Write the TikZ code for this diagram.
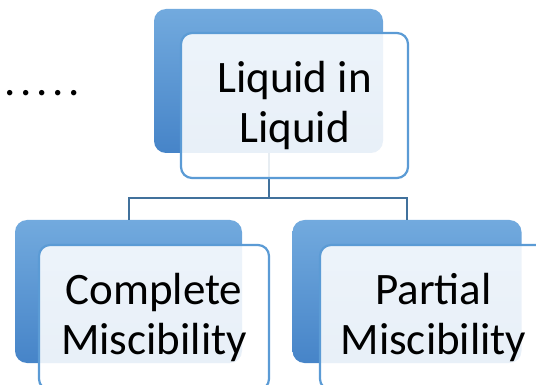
\documentclass[tikz,border=0pt]{standalone}
\usepackage{fontspec}
\setmainfont{Carlito}
\begin{document}
\begin{tikzpicture}[x=1pt,y=-1pt,
  backbox/.style={rectangle,rounded corners=12pt,inner sep=0pt,
    top color=blueA,bottom color=blueB,draw=none},
  frontbox/.style={rectangle,rounded corners=11pt,inner sep=0pt,
    draw=blueC,line width=2.2pt,fill=white,fill opacity=0.88,text opacity=1,
    align=center,font=\fontsize{45}{50}\selectfont},
  conn/.style={draw=connC,line width=2pt}]
\definecolor{blueA}{RGB}{114,170,222}
\definecolor{blueB}{RGB}{70,132,200}
\definecolor{blueC}{RGB}{91,155,213}
\definecolor{connC}{RGB}{65,113,156}
\useasboundingbox (0,0) rectangle (536,385);

% back (shaded) tiles
\node[backbox,minimum width=229pt,minimum height=144pt] (tb) at (268.5,81) {};
\node[backbox,minimum width=227pt,minimum height=143pt] (lb) at (128.5,291.5) {};
\node[backbox,minimum width=229pt,minimum height=143pt] (rb) at (407,291.5) {};

% tree connectors
\coordinate (j) at (268.5,198);
\draw[conn] (tb.south) -- (j) -| (lb.north);
\draw[conn] (j) -| (rb.north);

% front tiles with labels
\node[frontbox,minimum width=227pt,minimum height=145pt] (tf) at (294.5,105.5) {Liquid in\\Liquid};
\node[frontbox,minimum width=230pt,minimum height=145pt] (lf) at (154,317.5) {Complete\\Miscibility};
\node[frontbox,minimum width=227pt,minimum height=145pt] (rf) at (433.5,317.5) {Partial\\Miscibility};

% leading dots
\node[anchor=base west,inner sep=0pt,font=\fontsize{45}{50}\selectfont] (dots) at (4,96)
  {.\kern4.7pt.\kern4.7pt.\kern4.7pt.\kern4.7pt.};
\end{tikzpicture}
\end{document}
